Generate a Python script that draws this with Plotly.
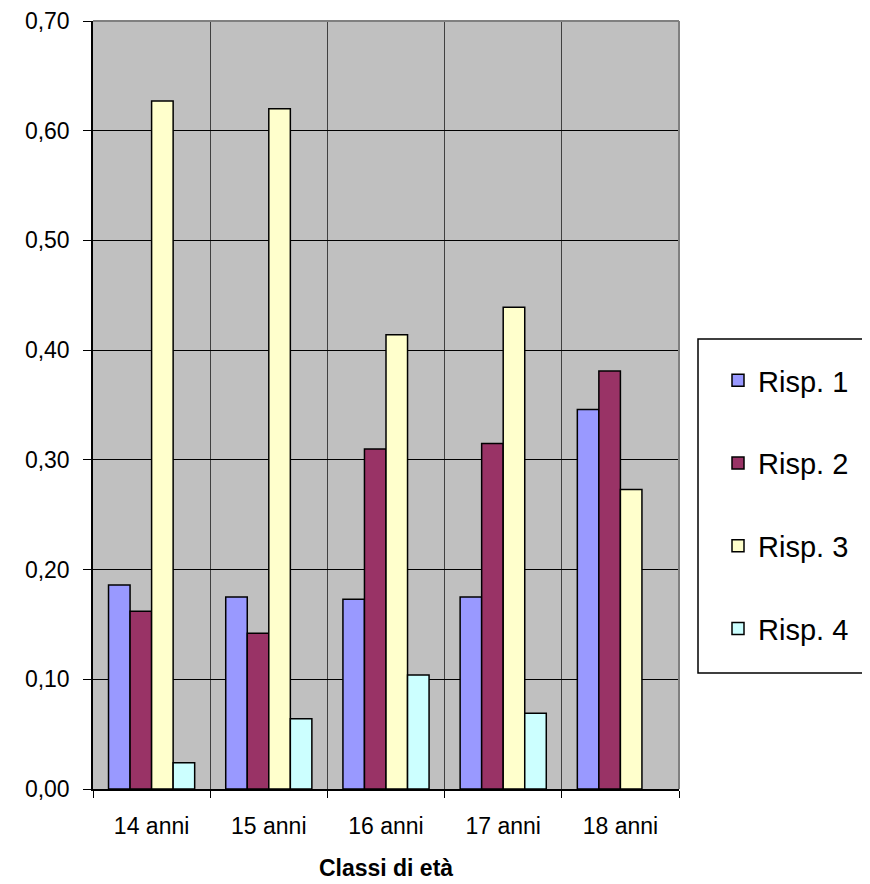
import plotly.graph_objects as go

categories = ["14 anni", "15 anni", "16 anni", "17 anni", "18 anni"]
risp1 = [0.186, 0.175, 0.173, 0.175, 0.346]
risp2 = [0.162, 0.142, 0.310, 0.315, 0.381]
risp3 = [0.627, 0.620, 0.414, 0.439, 0.273]
risp4 = [0.024, 0.064, 0.104, 0.069, None]
series_names = ["Risp. 1", "Risp. 2", "Risp. 3", "Risp. 4"]
series_colors = ["#9999FF", "#993366", "#FFFFCC", "#CCFFFF"]
y_ticks = [0.0, 0.1, 0.2, 0.3, 0.4, 0.5, 0.6, 0.7]

FONT = "Liberation Sans, Arial, sans-serif"

fig = go.Figure()
for name, vals, col in zip(series_names, [risp1, risp2, risp3, risp4], series_colors):
    fig.add_trace(go.Bar(
        x=categories, y=vals, name=name, legendgroup=name,
        marker=dict(color=col, line=dict(color="black", width=1.5)),
    ))

# page body has an 8px margin; figure sized to fit the 870x884 window
W, H = 862, 876
L, T, R, B = 85, 13, 191, 95
pw = W - L - R
ph = H - T - B


def px_x(x):
    return (x - 8 - L) / pw


def px_y(y):
    return (H - B - (y - 8)) / ph


fig.update_layout(
    width=W, height=H,
    margin=dict(l=L, r=R, t=T, b=B, autoexpand=False),
    paper_bgcolor="white", plot_bgcolor="#C0C0C0",
    separators=",.",
    barmode="group", bargap=0.265, bargroupgap=0,
    font=dict(family=FONT, color="black", size=23),
    showlegend=True,
    legend=dict(
        x=px_x(718), xanchor="left", y=px_y(355), yanchor="top",
        borderwidth=0, bgcolor="rgba(0,0,0,0)",
        font=dict(family=FONT, size=29, color="black"),
        tracegroupgap=42,
    ),
    xaxis=dict(
        type="category", tickson="boundaries", automargin=False,
        showgrid=True, gridcolor="#404040", gridwidth=1,
        showline=True, linecolor="black", linewidth=1.5,
        ticks="outside", ticklen=7, tickcolor="black",
        tickfont=dict(family=FONT, size=23),
        ticklabelstandoff=16,
        title=dict(text="<b>Classi di età</b>", font=dict(family=FONT, size=23), standoff=22),
        zeroline=False,
    ),
    yaxis=dict(
        range=[0, 0.7], tickvals=y_ticks, tickformat=".2f", automargin=False,
        showgrid=True, gridcolor="black", gridwidth=1,
        showline=True, linecolor="black", linewidth=1.5,
        ticks="outside", ticklen=8, tickcolor="black",
        tickfont=dict(family=FONT, size=23),
        ticklabelstandoff=9,
        zeroline=False,
    ),
    shapes=[
        dict(type="line", xref="paper", yref="paper", x0=0, x1=1, y0=1, y1=1,
             line=dict(color="#808080", width=2)),
        dict(type="line", xref="paper", yref="paper", x0=1, x1=1, y0=0, y1=1,
             line=dict(color="#808080", width=2)),
        # legend frame
        dict(type="rect", xref="paper", yref="paper",
             x0=px_x(698), x1=px_x(900), y0=px_y(673), y1=px_y(339),
             line=dict(color="black", width=1.5), fillcolor="white", layer="below"),
    ],
)

fig.write_html("out.html")
